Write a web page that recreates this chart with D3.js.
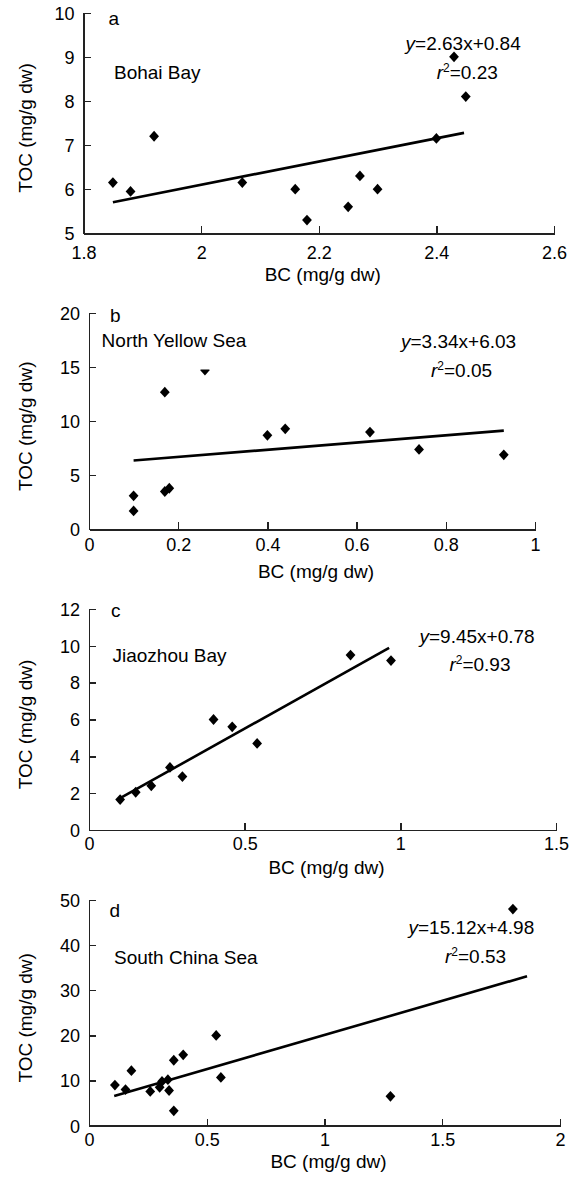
<!DOCTYPE html>
<html>
<head>
<meta charset="utf-8">
<script src="https://cdn.jsdelivr.net/npm/d3@7"></script>
<style>
  body { margin: 0; background: #fff; }
  svg { display: block; }
  text { font-family: "Liberation Sans", Arial, Helvetica, sans-serif; fill: #000; }
</style>
</head>
<body>
<svg id="chart" width="574" height="1178"></svg>
<script>
// ---- Data: BC vs TOC (mg/g dw) per sea area ----
const bohaiBC  = [1.85, 1.88, 1.92, 2.07, 2.16, 2.18, 2.25, 2.27, 2.30, 2.40, 2.43, 2.45];
const bohaiTOC = [6.15, 5.95, 7.20, 6.15, 6.00, 5.30, 5.60, 6.30, 6.00, 7.15, 9.00, 8.10];

const nysBC  = [0.10, 0.10, 0.17, 0.17, 0.18, 0.26, 0.40, 0.44, 0.63, 0.74, 0.93];
const nysTOC = [3.1, 1.7, 12.7, 3.5, 3.8, 14.75, 8.7, 9.3, 9.0, 7.4, 6.9];

const jzBC  = [0.10, 0.15, 0.20, 0.26, 0.30, 0.40, 0.46, 0.54, 0.84, 0.97];
const jzTOC = [1.65, 2.05, 2.4, 3.4, 2.9, 6.0, 5.6, 4.7, 9.5, 9.2];

const scsBC  = [0.11, 0.155, 0.18, 0.26, 0.30, 0.31, 0.335, 0.34, 0.36, 0.36, 0.40, 0.54, 0.56, 1.28, 1.80];
const scsTOC = [9.0, 8.0, 12.2, 7.6, 8.5, 9.8, 10.2, 7.8, 14.5, 3.3, 15.7, 20.0, 10.7, 6.5, 48.0];

// Linear fits: slope, intercept, r², and the BC span the fitted line covers
const fitSlope     = [2.63, 3.34, 9.45, 15.12];
const fitIntercept = [0.84, 6.03, 0.78, 4.98];
const fitR2        = ["0.23", "0.05", "0.93", "0.53"];
const fitSpan      = [[1.85, 2.447], [0.10, 0.93], [0.10, 0.964], [0.107, 1.86]];

// Axis domains and tick values
const xDomains = [[1.8, 2.6], [0, 1], [0, 1.5], [0, 2]];
const yDomains = [[5, 10], [0, 20], [0, 12], [0, 50]];
const xTickVals = [[1.8, 2, 2.2, 2.4, 2.6], [0, 0.2, 0.4, 0.6, 0.8, 1], [0, 0.5, 1, 1.5], [0, 0.5, 1, 1.5, 2]];
const yTickVals = [[5, 6, 7, 8, 9, 10], [0, 5, 10, 15, 20], [0, 2, 4, 6, 8, 10, 12], [0, 10, 20, 30, 40, 50]];

const panelLetters = ["a", "b", "c", "d"];
const siteNames = ["Bohai Bay", "North Yellow Sea", "Jiaozhou Bay", "South China Sea"];
const xTitle = "BC (mg/g dw)";
const yTitle = "TOC (mg/g dw)";

// ---- Layout of each panel (pixels) ----
const layout = [
  { left: 83.5, right: 554, top: 12.7, bottom: 233.3, tickDy: 26, titleY: 281,
    letter: [108.5, 25], site: [114, 79], eq: [405.6, 50], r2: [436.7, 79] },
  { left: 89, right: 535, top: 313.3, bottom: 529.3, tickDy: 22, titleY: 578,
    letter: [110, 321.7], site: [101.6, 346.5], eq: [401, 348], r2: [431, 376.7] },
  { left: 89, right: 556, top: 609, bottom: 830, tickDy: 20, titleY: 874,
    letter: [111, 616.7], site: [112.5, 661.7], eq: [419.5, 642.7], r2: [449.4, 670.7] },
  { left: 89, right: 560, top: 900, bottom: 1125.7, tickDy: 20, titleY: 1168,
    letter: [109.6, 916.7], site: [114, 964.3], eq: [408.5, 934], r2: [445, 963.3] }
];

const series = [[bohaiBC, bohaiTOC], [nysBC, nysTOC], [jzBC, jzTOC], [scsBC, scsTOC]];

// Filled diamond marker, slightly taller than wide
const diamond = {
  draw(ctx, size) {
    const w = 4.9, h = 5.4;
    ctx.moveTo(0, -h); ctx.lineTo(w, 0); ctx.lineTo(0, h); ctx.lineTo(-w, 0); ctx.closePath();
  }
};

const svg = d3.select("#chart");
svg.append("rect").attr("width", 574).attr("height", 1178).attr("fill", "#fff");

const fmt = v => String(+v.toFixed(2));

series.forEach(([bc, toc], i) => {
  const L = layout[i];
  const x = d3.scaleLinear().domain(xDomains[i]).range([L.left, L.right]);
  const y = d3.scaleLinear().domain(yDomains[i]).range([L.bottom, L.top]);
  const g = svg.append("g");

  // X axis: ticks pointing into the plot
  const xAxis = g.append("g").attr("transform", `translate(0,${L.bottom})`)
    .call(d3.axisBottom(x).tickValues(xTickVals[i]).tickFormat(fmt).tickSizeInner(-7).tickSizeOuter(0));
  xAxis.select(".domain").attr("stroke", "#222").attr("stroke-width", 1.6);
  xAxis.selectAll(".tick line").attr("stroke", "#222").attr("stroke-width", 1.4);
  xAxis.selectAll(".tick text").attr("y", L.tickDy).attr("dy", 0)
    .style("font-size", "18px").attr("fill", "#000");

  // Y axis: ticks pointing into the plot
  const yAxis = g.append("g").attr("transform", `translate(${L.left},0)`)
    .call(d3.axisLeft(y).tickValues(yTickVals[i]).tickFormat(fmt).tickSizeInner(-7).tickSizeOuter(0));
  yAxis.select(".domain").attr("stroke", "#222").attr("stroke-width", 1.6);
  yAxis.selectAll(".tick line").attr("stroke", "#222").attr("stroke-width", 1.4);
  yAxis.selectAll(".tick text").attr("x", -9).attr("dy", "0.35em")
    .style("font-size", "18px").attr("fill", "#000");
  g.selectAll(".domain, .tick line").attr("shape-rendering", "crispEdges");

  // Axis titles
  g.append("text").attr("x", (L.left + L.right) / 2 + 4).attr("y", L.titleY)
    .attr("text-anchor", "middle").style("font-size", "19px").text(xTitle);
  g.append("text")
    .attr("transform", `translate(32,${(L.top + L.bottom) / 2 + 5}) rotate(-90)`)
    .attr("text-anchor", "middle").style("font-size", "19px").text(yTitle);

  // Panel letter
  g.append("text").attr("x", L.letter[0]).attr("y", L.letter[1])
    .style("font-size", "19px").text(panelLetters[i]);

  // Fitted regression line
  const span = fitSpan[i];
  const line = d3.line().x(d => x(d)).y(d => y(fitSlope[i] * d + fitIntercept[i]));
  g.append("path").datum(span).attr("d", line)
    .attr("fill", "none").attr("stroke", "#000").attr("stroke-width", 2.6);

  // Data points
  g.append("g").selectAll("path").data(bc.map((v, k) => [v, toc[k]])).join("path")
    .attr("transform", d => `translate(${x(d[0])},${y(d[1])})`)
    .attr("d", d3.symbol().type(diamond))
    .attr("fill", "#000");

  // Site name sits on an opaque white text box drawn above the markers
  const siteBox = g.append("rect").attr("fill", "#fff");
  const site = g.append("text").attr("x", L.site[0]).attr("y", L.site[1])
    .style("font-size", "19px").text(siteNames[i]);
  const bb = site.node().getBBox();
  siteBox.attr("x", bb.x - 4).attr("y", bb.y - 4)
    .attr("width", bb.width + 8).attr("height", L.site[1] + 23 - (bb.y - 4));

  // Equation and r²
  const eq = g.append("text").attr("x", L.eq[0]).attr("y", L.eq[1]).style("font-size", "19px");
  eq.append("tspan").style("font-style", "italic").text("y");
  eq.append("tspan").text(`=${fitSlope[i].toFixed(2)}x+${fitIntercept[i].toFixed(2)}`);

  const r2 = g.append("text").attr("x", L.r2[0]).attr("y", L.r2[1]).style("font-size", "19px");
  r2.append("tspan").style("font-style", "italic").text("r");
  r2.append("tspan").attr("dy", -7).style("font-size", "12px").text("2");
  r2.append("tspan").attr("dy", 7).text(`=${fitR2[i]}`);
});
</script>
</body>
</html>
